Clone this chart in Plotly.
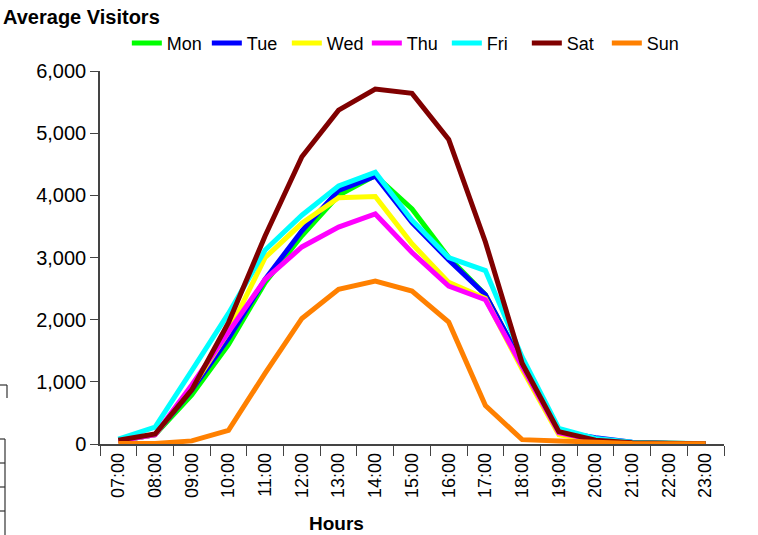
import plotly.graph_objects as go

hours = ["07:00", "08:00", "09:00", "10:00", "11:00", "12:00", "13:00", "14:00", "15:00",
         "16:00", "17:00", "18:00", "19:00", "20:00", "21:00", "22:00", "23:00"]

mon = [50, 150, 790, 1600, 2600, 3350, 4000, 4320, 3780, 3000, 2400, 1300, 200, 60, 20, 10, 5]
tue = [50, 150, 870, 1700, 2650, 3430, 4080, 4310, 3560, 2960, 2400, 1300, 200, 100, 30, 10, 5]
wed = [50, 150, 900, 1800, 3000, 3550, 3960, 3980, 3220, 2600, 2340, 1200, 150, 50, 20, 10, 5]
thu = [50, 150, 950, 1800, 2650, 3170, 3490, 3700, 3080, 2540, 2320, 1250, 180, 60, 20, 10, 5]
fri = [80, 270, 1180, 2100, 3120, 3680, 4150, 4370, 3600, 3000, 2790, 1400, 250, 90, 30, 10, 5]
sat = [60, 160, 870, 1950, 3350, 4620, 5370, 5710, 5640, 4900, 3250, 1300, 200, 60, 20, 10, 5]
sun = [10, 10, 50, 220, 1140, 2020, 2490, 2620, 2460, 1960, 620, 70, 50, 20, 10, 5, 5]

days = ["Mon", "Tue", "Wed", "Thu", "Fri", "Sat", "Sun"]
series = [mon, tue, wed, thu, fri, sat, sun]
colors = ["#00ff00", "#0000ff", "#ffff00", "#ff00ff", "#00ffff", "#800000", "#ff8000"]

fig = go.Figure()
for name, vals, col in zip(days, series, colors):
    fig.add_trace(go.Scatter(x=hours, y=vals, name=name, mode="lines",
                             line=dict(color=col, width=5)))

axis_col = "#444444"
# leftover lines at the left edge of the original picture
edge = dict(type="line", xref="paper", yref="paper", line=dict(color="#333", width=1.2))
px = lambda v: (v - 100) / 624
py = lambda v: (444 - v) / 373
shapes = [
    dict(edge, x0=px(-2), x1=px(7), y0=py(385), y1=py(385)),
    dict(edge, x0=px(7), x1=px(7), y0=py(385), y1=py(398)),
    dict(edge, x0=px(-2), x1=px(5), y0=py(439), y1=py(439)),
    dict(edge, x0=px(5), x1=px(5), y0=py(439), y1=py(540)),
    dict(edge, x0=px(-2), x1=px(5), y0=py(463), y1=py(463)),
    dict(edge, x0=px(-2), x1=px(5), y0=py(487), y1=py(487)),
    dict(edge, x0=px(-2), x1=px(5), y0=py(511), y1=py(511)),
]

fig.update_layout(
    width=758, height=535,
    margin=dict(l=100, r=34, t=71, b=91),
    paper_bgcolor="white", plot_bgcolor="white",
    font=dict(family="Liberation Sans, Arial, sans-serif", color="black"),
    title=dict(text="<b>Average Visitors</b>", x=0.004, xanchor="left",
               y=0.968, yanchor="middle", font=dict(size=20)),
    legend=dict(orientation="h", x=0.043, xanchor="left", y=1.124, yanchor="top",
                entrywidth=35, entrywidthmode="pixels", font=dict(size=18),
                bgcolor="rgba(0,0,0,0)"),
    xaxis=dict(type="category", range=[-0.5, len(hours) - 0.5], tickson="boundaries",
               ticks="outside", ticklen=10,
               tickcolor=axis_col, showline=True, linecolor=axis_col, linewidth=1.5,
               showgrid=False, tickangle=-90, tickfont=dict(size=18), zeroline=False),
    yaxis=dict(range=[0, 6000], tickvals=[0, 1000, 2000, 3000, 4000, 5000, 6000],
               tickformat=",", ticks="outside", ticklen=8, tickcolor=axis_col,
               showline=True, linecolor=axis_col, linewidth=1.5, showgrid=False,
               zeroline=False, tickfont=dict(size=20)),
    annotations=[dict(text="<b>Hours</b>", xref="paper", yref="paper", x=px(336),
                      y=py(523), xanchor="center", yanchor="middle",
                      showarrow=False, font=dict(size=19))],
    shapes=shapes,
)

fig.write_html("out.html", config={"displayModeBar": False},
               post_script="document.body.style.margin='0';")
